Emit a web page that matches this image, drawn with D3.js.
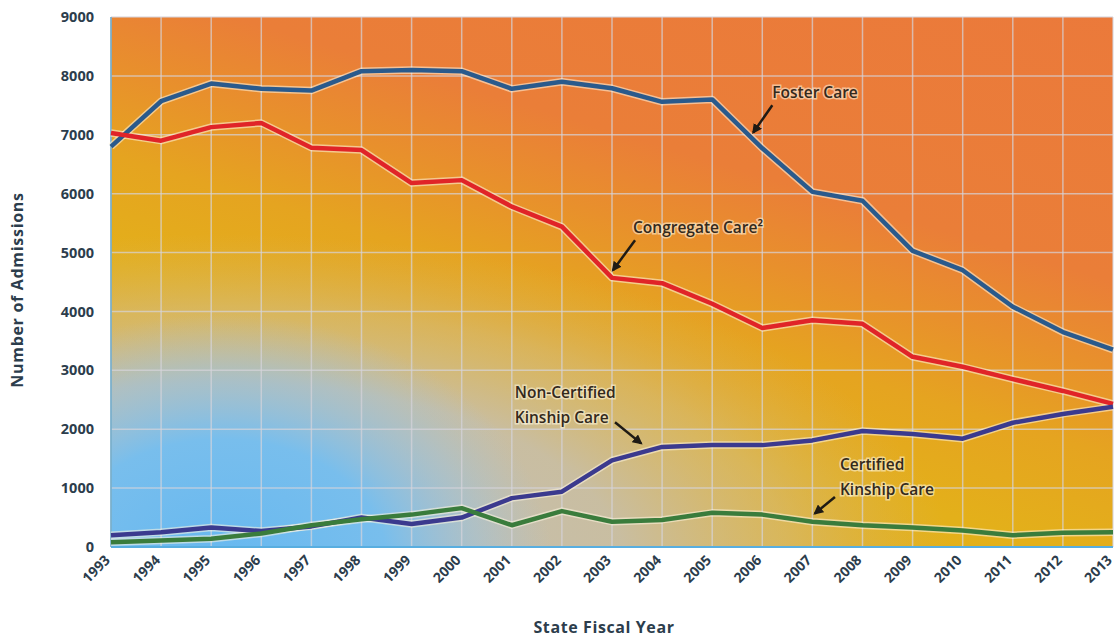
<!DOCTYPE html>
<html lang="en">
<head>
<meta charset="UTF-8">
<title>Admissions by Placement Type</title>
<script src="https://cdnjs.cloudflare.com/ajax/libs/d3/7.8.5/d3.min.js"></script>
<style>
  body { margin: 0; background: #fff; }
  svg { display: block; }
  .tick-label { font-family: "Open Sans", sans-serif; font-weight: 700; fill: #2c3d4c; }
  .axis-title { font-family: "Open Sans", sans-serif; font-weight: 700; fill: #2c3d4c; font-size: 16px; }
  .note { font-family: "Open Sans", sans-serif; font-weight: 600; fill: #33291c; font-size: 15.5px;
          stroke: rgba(255,250,230,0.55); stroke-width: 3px; paint-order: stroke; }
</style>
</head>
<body>
<svg id="chart"></svg>
<script>
// data
const years = d3.range(1993, 2014);
const fosterCare     = [6800, 7570, 7870, 7780, 7750, 8080, 8100, 8080, 7780, 7900, 7790, 7560, 7600, 6770, 6030, 5880, 5030, 4700, 4080, 3650, 3350];
const congregateCare = [7030, 6900, 7130, 7200, 6780, 6740, 6180, 6230, 5780, 5440, 4570, 4480, 4130, 3720, 3850, 3790, 3230, 3060, 2850, 2650, 2430];
const nonCertKinship = [200, 250, 330, 270, 350, 500, 390, 500, 830, 940, 1470, 1700, 1730, 1730, 1810, 1970, 1920, 1840, 2110, 2260, 2380];
const certKinship    = [80, 110, 140, 230, 370, 470, 550, 660, 370, 610, 430, 460, 580, 550, 430, 370, 330, 280, 200, 240, 250];
const yTicks = [0, 1000, 2000, 3000, 4000, 5000, 6000, 7000, 8000, 9000];

const series = [
  { name: "Foster Care", values: fosterCare, color: "#2a5a8c" },
  { name: "Congregate Care", values: congregateCare, color: "#e02428" },
  { name: "Non-Certified Kinship Care", values: nonCertKinship, color: "#3b3a8e" },
  { name: "Certified Kinship Care", values: certKinship, color: "#3a7c3c" }
];

// annotations in data units: text lines, label anchor, arrow from/to
const notes = [
  { lines: ["Foster Care"], at: [2006.2, 7620], from: [2006.2, 7500], to: [2005.82, 7040] },
  { lines: ["Congregate Care\u00B2"], at: [2003.42, 5330], from: [2003.46, 5210], to: [2003.02, 4700] },
  { lines: ["Non-Certified", "Kinship Care"], at: [2001.06, 2530], from: [2003.06, 2120], to: [2003.58, 1760] },
  { lines: ["Certified", "Kinship Care"], at: [2007.55, 1305], from: [2007.45, 850], to: [2007.05, 570] }
];

const width = 1115, height = 641;
const margin = { top: 17, right: 2, bottom: 94, left: 111 };
const iw = width - margin.left - margin.right;
const ih = height - margin.top - margin.bottom;

const svg = d3.select("#chart").attr("width", width).attr("height", height);
const defs = svg.append("defs");

const bg = defs.append("linearGradient").attr("id", "bg")
  .attr("gradientUnits", "userSpaceOnUse")
  .attr("x1", 450).attr("y1", 600).attr("x2", 750).attr("y2", -400);
[[0, "#e0b41c"], [0.2, "#e3b01a"], [0.3, "#e5a420"], [0.38, "#e8902c"], [0.46, "#ea7e38"], [1, "#ec743e"]]
  .forEach(([o, c]) => bg.append("stop").attr("offset", o).attr("stop-color", c));

function glow(id, sx, sy, stops) {
  const rg = defs.append("radialGradient").attr("id", id)
    .attr("gradientUnits", "userSpaceOnUse")
    .attr("cx", 0).attr("cy", 0).attr("r", 1)
    .attr("gradientTransform", `translate(${margin.left},${margin.top + ih}) scale(${sx},${sy})`);
  stops.forEach(([o, c, a]) => rg.append("stop").attr("offset", o).attr("stop-color", c).attr("stop-opacity", a));
}
glow("grey", 730, 330, [[0, "#c2c0bc", 1], [0.55, "#c6bfb0", 0.9], [0.78, "#d0bc98", 0.5], [1, "#d8b070", 0]]);
glow("blue", 330, 250, [[0, "#66b8f0", 1], [0.5, "#74bef0", 0.95], [0.78, "#98c2e0", 0.5], [1, "#a8c4d8", 0]]);

const x = d3.scaleLinear().domain([1993, 2013]).range([0, iw]);
const y = d3.scaleLinear().domain([0, 9000]).range([ih, 0]);

const g = svg.append("g").attr("transform", `translate(${margin.left},${margin.top})`);

g.append("rect").attr("width", iw).attr("height", ih).attr("fill", "url(#bg)");
g.append("rect").attr("width", iw).attr("height", ih).attr("fill", "url(#grey)");
g.append("rect").attr("width", iw).attr("height", ih).attr("fill", "url(#blue)");

// grid
g.append("g").selectAll("line").data(years).join("line")
  .attr("x1", d => x(d)).attr("x2", d => x(d)).attr("y1", 0).attr("y2", ih)
  .attr("stroke", "#d6d4dc").attr("stroke-opacity", 0.7).attr("stroke-width", 1.5);
g.append("g").selectAll("line").data(yTicks).join("line")
  .attr("x1", 0).attr("x2", iw).attr("y1", d => y(d)).attr("y2", d => y(d))
  .attr("stroke", "#d6d4dc").attr("stroke-opacity", 0.7).attr("stroke-width", 1.5);

// axis lines
g.append("line").attr("x1", 0).attr("x2", iw).attr("y1", ih).attr("y2", ih)
  .attr("stroke", "#58aee0").attr("stroke-width", 2);
g.append("line").attr("x1", 0).attr("x2", 0).attr("y1", 0).attr("y2", ih)
  .attr("stroke", "#6aa8c8").attr("stroke-width", 1.5);

// axes labels
g.append("g").selectAll("text").data(yTicks).join("text")
  .attr("class", "tick-label")
  .attr("x", -17).attr("y", d => y(d)).attr("dy", "0.35em")
  .attr("text-anchor", "end").attr("font-size", 14.5)
  .text(d => d);

g.append("g").selectAll("text").data(years).join("text")
  .attr("class", "tick-label")
  .attr("text-anchor", "end").attr("font-size", 14)
  .attr("transform", d => `translate(${x(d)},${ih + 14}) rotate(-45)`)
  .text(d => d);

svg.append("text").attr("class", "axis-title")
  .attr("transform", `translate(23,${margin.top + ih / 2 + 8}) rotate(-90)`)
  .attr("text-anchor", "middle").attr("letter-spacing", 0.7).text("Number of Admissions");
svg.append("text").attr("class", "axis-title")
  .attr("x", margin.left + iw / 2 - 8).attr("y", 633)
  .attr("text-anchor", "middle").attr("letter-spacing", 0.6).text("State Fiscal Year");

// lines
const line = d3.line().x((d, i) => x(years[i])).y(d => y(d));
const lines = g.append("g");
series.forEach(s => {
  lines.append("path").datum(s.values).attr("d", line)
    .attr("fill", "none").attr("stroke", "#fff6e0").attr("stroke-opacity", 0.55)
    .attr("stroke-width", 7.5).attr("stroke-linejoin", "round");
});
series.forEach(s => {
  lines.append("path").datum(s.values).attr("d", line)
    .attr("fill", "none").attr("stroke", s.color)
    .attr("stroke-width", 4.5).attr("stroke-linejoin", "round");
});

// annotations
defs.append("marker").attr("id", "head")
  .attr("viewBox", "0 0 10 10").attr("refX", 8).attr("refY", 5)
  .attr("markerWidth", 4).attr("markerHeight", 4).attr("orient", "auto")
  .append("path").attr("d", "M0,0 L10,5 L0,10 Z").attr("fill", "#1e1a14");

const ann = g.append("g");
notes.forEach(n => {
  const t = ann.append("text").attr("class", "note")
    .attr("x", x(n.at[0])).attr("y", y(n.at[1]));
  n.lines.forEach((l, i) => t.append("tspan").attr("x", x(n.at[0])).attr("dy", i ? 25 : 0).text(l));
  ann.append("line")
    .attr("x1", x(n.from[0])).attr("y1", y(n.from[1]))
    .attr("x2", x(n.to[0])).attr("y2", y(n.to[1]))
    .attr("stroke", "#1e1a14").attr("stroke-width", 2.5)
    .attr("marker-end", "url(#head)");
});
</script>
</body>
</html>
